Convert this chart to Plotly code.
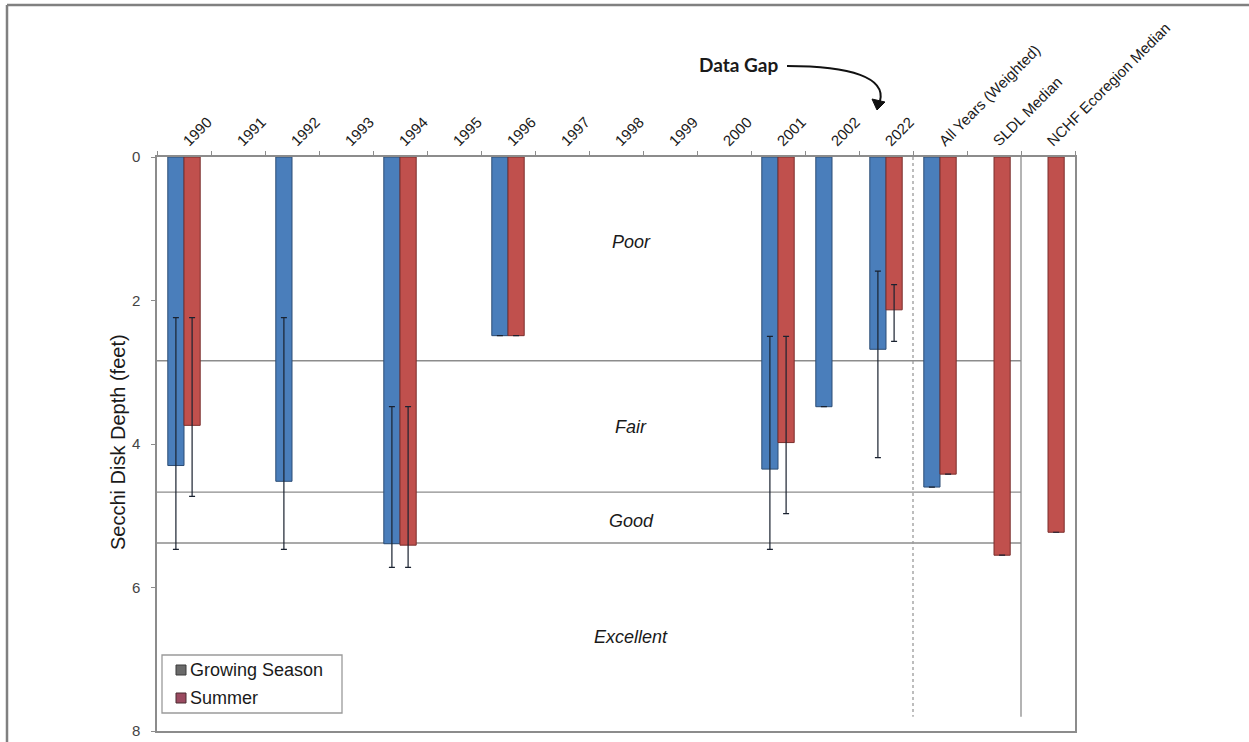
import plotly.graph_objects as go

# ---------------- data ----------------
categories = ["1990", "1991", "1992", "1993", "1994", "1995", "1996", "1997", "1998",
              "1999", "2000", "2001", "2002", "2022", "All Years (Weighted)",
              "SLDL Median", "NCHF Ecoregion Median"]

growing = [4.30, None, 4.52, None, 5.39, None, 2.49, None, None, None, None,
           4.35, 3.48, 2.68, 4.60, None, None]
summer = [3.74, None, None, None, 5.41, None, 2.49, None, None, None, None,
          3.98, None, 2.13, 4.42, 5.55, 5.23]

# error-bar extents (min / max depth)
growing_lo = [2.24, None, 2.24, None, 3.48, None, None, None, None, None, None,
              2.50, None, 1.59, None, None, None]
growing_hi = [5.47, None, 5.47, None, 5.72, None, None, None, None, None, None,
              5.47, None, 4.19, None, None, None]
summer_lo = [2.24, None, None, None, 3.48, None, None, None, None, None, None,
             2.50, None, 1.78, None, None, None]
summer_hi = [4.73, None, None, None, 5.72, None, None, None, None, None, None,
             4.97, None, 2.57, None, None, None]

# trophic class thresholds (feet) and class labels
thresholds = [2.84, 4.67, 5.38]
class_labels = ["Poor", "Fair", "Good", "Excellent"]
class_label_y = [1.18, 3.76, 5.07, 6.69]

y_ticks = [0, 2, 4, 6, 8]

# ---------------- layout constants ----------------
W, H = 1249, 742
L, R, T, B = 157, 1075, 157, 731


def px(xpix, ypix):
    return (xpix - L) / (R - L), (B - ypix) / (B - T)


def err_plus(vals, hi):
    return [(h - v) if (v is not None and h is not None) else None for v, h in zip(vals, hi)]


def err_minus(vals, lo):
    return [(v - l) if (v is not None and l is not None) else None for v, l in zip(vals, lo)]


BLUE, BLUE_EDGE = "#4A7EBB", "#2C4D75"
RED, RED_EDGE = "#C0504D", "#7A2E2C"
ERR = "#1a2230"
GRID = "#8c8c8c"
FONT = "Arial, Liberation Sans, sans-serif"

fig = go.Figure()

fig.add_trace(go.Bar(
    x=categories, y=growing, name="Growing Season", showlegend=False,
    marker=dict(color=BLUE, line=dict(color=BLUE_EDGE, width=1)),
    error_y=dict(type="data", symmetric=False,
                 array=err_plus(growing, growing_hi),
                 arrayminus=err_minus(growing, growing_lo),
                 color=ERR, thickness=1.2, width=3),
))
fig.add_trace(go.Bar(
    x=categories, y=summer, name="Summer", showlegend=False,
    marker=dict(color=RED, line=dict(color=RED_EDGE, width=1)),
    error_y=dict(type="data", symmetric=False,
                 array=err_plus(summer, summer_hi),
                 arrayminus=err_minus(summer, summer_lo),
                 color=ERR, thickness=1.2, width=3),
))

shapes = []
# threshold lines (stop at the SLDL / NCHF separator)
for t in thresholds:
    shapes.append(dict(type="line", xref="x", yref="y", x0=-0.5, x1=15.5, y0=t, y1=t,
                       line=dict(color=GRID, width=1.3), layer="below"))
# dotted separator between 2022 and All Years
shapes.append(dict(type="line", xref="x", yref="y", x0=13.5, x1=13.5, y0=0, y1=7.8,
                   line=dict(color="#9a9a9a", width=1.3, dash="dot"), layer="below"))
# solid separator between SLDL and NCHF
shapes.append(dict(type="line", xref="x", yref="y", x0=15.5, x1=15.5, y0=0, y1=7.8,
                   line=dict(color=GRID, width=1.3), layer="below"))

# outer frame (top and left)
fx0, fy0 = px(7, 5)
fx1, _ = px(W, 5)
_, fyb = px(7, H)
shapes.append(dict(type="line", xref="paper", yref="paper", x0=fx0, x1=fx1, y0=fy0, y1=fy0,
                   line=dict(color="#808080", width=2.5)))
shapes.append(dict(type="line", xref="paper", yref="paper", x0=fx0, x1=fx0, y0=fy0, y1=fyb,
                   line=dict(color="#808080", width=2.5)))

# Data Gap curved arrow
p0 = px(787, 66); c1 = px(852, 66); c2 = px(886, 78); p1 = px(880, 101)
shapes.append(dict(type="path", xref="paper", yref="paper",
                   path=f"M {p0[0]},{p0[1]} C {c1[0]},{c1[1]} {c2[0]},{c2[1]} {p1[0]},{p1[1]}",
                   line=dict(color="#111111", width=2)))
tip = px(877, 110); bl = px(872, 99); br = px(885, 102)
shapes.append(dict(type="path", xref="paper", yref="paper",
                   path=f"M {tip[0]},{tip[1]} L {bl[0]},{bl[1]} L {br[0]},{br[1]} Z",
                   fillcolor="#111111", line=dict(color="#111111", width=1)))

# manual legend
lx0, ly0 = px(162, 655)
lx1, ly1 = px(342, 713)
shapes.append(dict(type="rect", xref="paper", yref="paper", x0=lx0, x1=lx1, y0=ly1, y1=ly0,
                   line=dict(color="#9a9a9a", width=1.3), fillcolor="white"))
legend_items = [("Growing Season", "#6a6a6a", "#3a3a3a", 670),
                ("Summer", "#9a4a60", "#4a2a30", 698)]
annotations = []
for name, fc, ec, yc in legend_items:
    a = px(176, yc - 5); b = px(186, yc + 5)
    shapes.append(dict(type="rect", xref="paper", yref="paper", x0=a[0], x1=b[0], y0=b[1], y1=a[1],
                       fillcolor=fc, line=dict(color=ec, width=1)))
    tx, ty = px(188, yc)
    annotations.append(dict(xref="paper", yref="paper", x=tx, y=ty, text=name, showarrow=False,
                            xanchor="left", yanchor="middle",
                            font=dict(family=FONT, size=18, color="#1a1a1a")))

# class labels
cx, _ = px(631, 0)
for lab, yv in zip(class_labels, class_label_y):
    annotations.append(dict(xref="paper", yref="y", x=cx, y=yv, text=f"<i>{lab}</i>",
                            showarrow=False, xanchor="center", yanchor="middle",
                            font=dict(family=FONT, size=18, color="#1a1a1a")))

# Data Gap label
gx, gy = px(738, 65)
annotations.append(dict(xref="paper", yref="paper", x=gx, y=gy, text="<b>Data Gap</b>",
                        showarrow=False, xanchor="center", yanchor="middle",
                        font=dict(family="Lato, Open Sans, sans-serif", size=19, color="#1a1a1a")))

# y-axis title
ax_, ay_ = px(118, 442)
annotations.append(dict(xref="paper", yref="paper", x=ax_, y=ay_, text="Secchi Disk Depth (feet)",
                        showarrow=False, textangle=-90, xanchor="center", yanchor="middle",
                        font=dict(family=FONT, size=20, color="#1a1a1a")))

fig.update_layout(
    width=W, height=H,
    margin=dict(l=L, r=W - R, t=T, b=H - B, autoexpand=False),
    paper_bgcolor="white", plot_bgcolor="white",
    barmode="group", bargap=0.4, bargroupgap=0,
    showlegend=False,
    shapes=shapes, annotations=annotations,
    font=dict(family=FONT, color="#1a1a1a"),
)
fig.update_xaxes(
    type="category", side="top", tickangle=-45, tickson="boundaries",
    ticks="outside", ticklen=4, tickcolor=GRID,
    showline=True, linecolor=GRID, linewidth=1.5, mirror=True,
    showgrid=False, tickfont=dict(family=FONT, size=15, color="#1a1a1a"),
    range=[-0.5, len(categories) - 0.5],
)
fig.update_yaxes(
    range=[8, 0], tickvals=y_ticks, ticktext=[str(v) for v in y_ticks],
    ticks="outside", ticklen=4, tickcolor=GRID, ticklabelstandoff=8,
    showline=True, linecolor=GRID, linewidth=1.5, mirror=True,
    showgrid=False, zeroline=False,
    tickfont=dict(family=FONT, size=15, color="#444444"),
)

fig.write_html("out.html",
               config={"displayModeBar": False},
               post_script="document.body.style.margin='0';document.body.style.padding='0';")
